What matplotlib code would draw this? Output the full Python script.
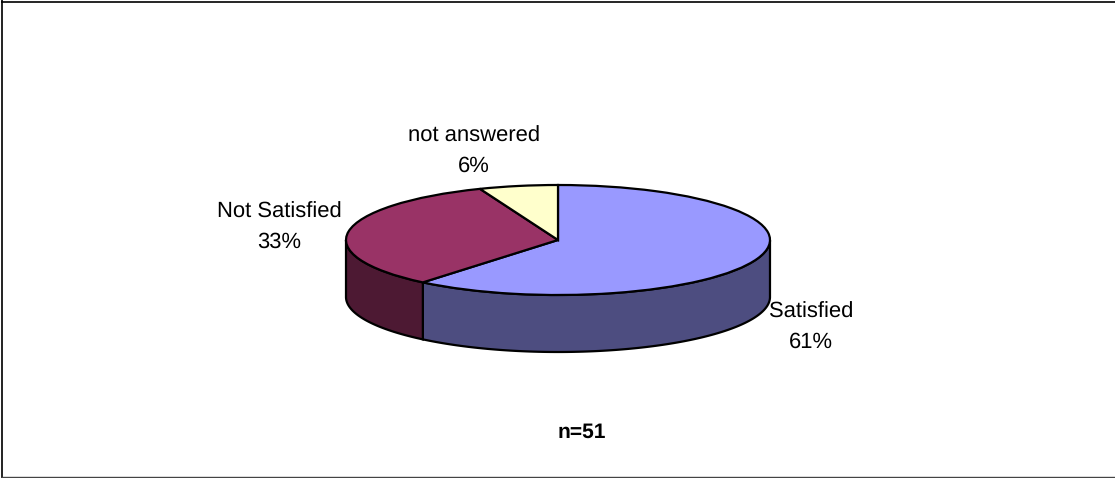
import matplotlib
matplotlib.use("Agg")
import matplotlib.pyplot as plt
import numpy as np

labels = ["Satisfied", "Not Satisfied", "not answered"]
shares = [61, 33, 6]
top_colors = ["#9999ff", "#993366", "#ffffcc"]
side_colors = ["#4d4d80", "#4d1933", "#808066"]

W, H = 1115, 478
CX, CY = 558, 240
RX, RY = 212, 55
DEPTH = 57 / RY
EDGE = 1.6

plt.rcParams["font.family"] = ["Liberation Sans", "DejaVu Sans"]
plt.rcParams["text.hinting"] = "no_hinting"
plt.rcParams["text.hinting_factor"] = 1

fig = plt.figure(figsize=(W / 100, H / 100), dpi=100, facecolor="white")

# one unit is RX pixels across and RY pixels down, which flattens the pie
ax = fig.add_axes([0, 0, 1, 1])

# rim first, one piece per slice, only the part facing the viewer
start = 0
for share, col in zip(shares, side_colors):
    stop = start + share * 3.6
    t = np.radians(np.linspace(start, stop, 200))
    t = t[(t >= np.pi / 2) & (t <= 3 * np.pi / 2)]
    if len(t):
        x = np.sin(t)
        y = np.cos(t)
        ax.fill(np.r_[x, x[::-1]], np.r_[y, y[::-1] - DEPTH],
                facecolor=col, edgecolor="black", linewidth=EDGE, zorder=1)
    start = stop

# top face, clockwise from twelve o'clock
ax.pie(shares, colors=top_colors, startangle=90, counterclock=False, radius=1,
       wedgeprops=dict(edgecolor="black", linewidth=EDGE, zorder=2))

ax.set_aspect("auto")
ax.set_xlim(-CX / RX, (W - CX) / RX)
ax.set_ylim((CY - H) / RY, CY / RY)
ax.axis("off")


def put_label(px, py, text, size=15.9, **kw):
    ax.text((px - CX) / RX, (CY - py) / RY, text, ha="center", va="center",
            color="black", fontsize=size, zorder=5, **kw)


put_label(811, 327, labels[0] + "\n%d%%" % shares[0], linespacing=1.64)
put_label(279, 227, labels[1] + "\n%d%%" % shares[1], linespacing=1.64)
put_label(474, 151, labels[2] + "\n%d%%" % shares[2], linespacing=1.64)
put_label(582, 432, "n=51", size=15, fontweight="bold")


def border(x0, y0, x1, y1, color, lw):
    fig.add_artist(plt.Line2D([x0 / W, x1 / W], [1 - y0 / H, 1 - y1 / H],
                              transform=fig.transFigure, color=color,
                              linewidth=lw, solid_capstyle="butt"))


# chart area border, open on the right
border(2, 0, 2, H, "#222222", 1.4)
border(1, 2, W, 2, "black", 1.2)
border(1, 477, W, 477, "#444444", 1.0)

fig.savefig("out.png", dpi=100)
